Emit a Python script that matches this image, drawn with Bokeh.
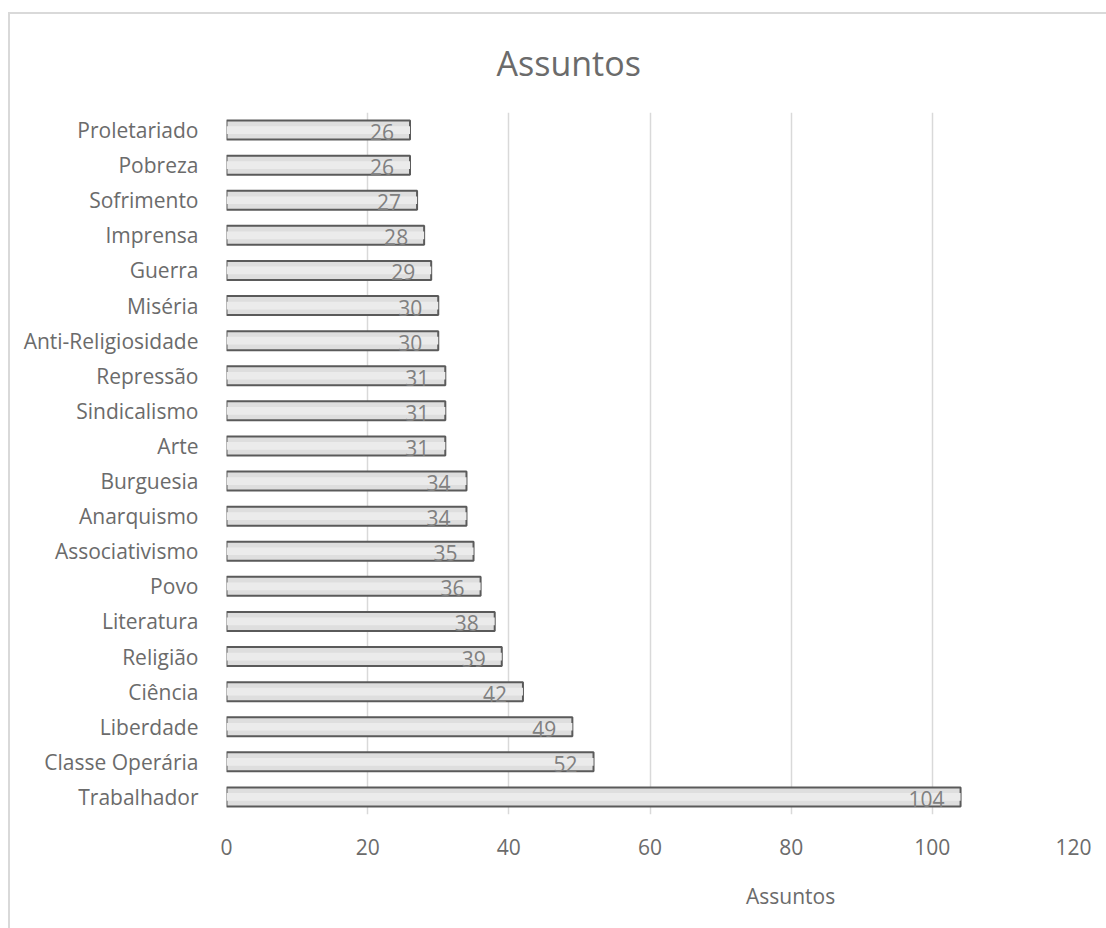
from bokeh.plotting import figure
from bokeh.layouts import column
from bokeh.models import ColumnDataSource, Range1d, FactorRange, Legend, LegendItem, Title
from bokeh.core.properties import value
from bokeh.embed import file_html
from bokeh.resources import INLINE

categories = ["Trabalhador", "Classe Operária", "Liberdade", "Ciência", "Religião",
              "Literatura", "Povo", "Associativismo", "Anarquismo", "Burguesia",
              "Arte", "Sindicalismo", "Repressão", "Anti-Religiosidade", "Miséria",
              "Guerra", "Imprensa", "Sofrimento", "Pobreza", "Proletariado"]
values = [104, 52, 49, 42, 39, 38, 36, 35, 34, 34, 31, 31, 31, 30, 30, 29, 28, 27, 26, 26]
x_ticks = [0, 20, 40, 60, 80, 100, 120]
series_name = "Assuntos"
title_text = "Assuntos"

FONT = "Open Sans"
TXT = "#6b6b6b"
FS = "21px"
BAR_FILL = "#dedede"
BAR_LINE = "#5a5a5a"

src = ColumnDataSource(dict(cat=categories, val=values, lab=[str(v) for v in values]))

p = figure(frame_width=845, frame_height=700, output_backend="svg", toolbar_location=None,
           y_range=FactorRange(factors=categories), x_range=Range1d(0, 120),
           min_border_left=216, min_border_right=35, min_border_top=98, min_border_bottom=60,
           margin=(12, 0, 0, 8),
           styles={"border-left": "2px solid #d9d9d9", "border-top": "2px solid #d9d9d9",
                   "box-sizing": "content-box"})
p.outline_line_color = None
p.background_fill_color = "white"
p.border_fill_color = "white"

r = p.hbar(y="cat", right="val", left=0, height=0.54, source=src,
           fill_color=BAR_FILL, line_color=BAR_LINE, line_width=2)
p.hbar(y="cat", right="val", left=0, height=0.22, source=src,
       fill_color="#ebebeb", line_color=None, line_width=0)

p.text(x="val", y="cat", text="lab", source=src, x_offset=-16, y_offset=2,
       text_align="right", text_baseline="middle", text_color="#808080",
       text_font=value(FONT), text_font_size=FS)

p.xaxis.ticker = x_ticks
p.xaxis.axis_line_color = None
p.xaxis.major_tick_line_color = None
p.xaxis.minor_tick_line_color = None
p.xaxis.major_label_standoff = 18
p.xaxis.major_label_text_font = FONT
p.xaxis.major_label_text_font_size = FS
p.xaxis.major_label_text_color = TXT

p.yaxis.axis_line_color = None
p.yaxis.major_tick_line_color = None
p.yaxis.minor_tick_line_color = None
p.yaxis.major_label_standoff = 22
p.yaxis.major_label_text_font = FONT
p.yaxis.major_label_text_font_size = FS
p.yaxis.major_label_text_color = TXT

p.xgrid.ticker = x_ticks
p.xgrid.grid_line_color = "#d9d9d9"
p.xgrid.grid_line_width = 1.5
p.ygrid.grid_line_color = None

p.title = Title(text=title_text, align="left", offset=270, text_font=FONT,
                text_font_size="34px", text_color=TXT, text_font_style="normal",
                vertical_align="top", standoff=50)

# legend strip below the chart
p2 = figure(width=1096, height=56, output_backend="svg", toolbar_location=None,
            x_range=Range1d(0, 1), y_range=Range1d(0, 1), min_border=0,
            margin=(0, 0, 0, 8),
            styles={"border-left": "2px solid #d9d9d9", "box-sizing": "content-box"})
p2.axis.visible = False
p2.grid.visible = False
p2.outline_line_color = None
p2.border_fill_color = "white"
r2 = p2.hbar(y=[], right=[], left=0, height=0.5,
             fill_color=BAR_FILL, line_color=BAR_LINE, line_width=2)
legend = Legend(items=[LegendItem(label=series_name, renderers=[r2])], location=(503, 18),
                orientation="horizontal", label_text_font=FONT, label_text_font_size=FS,
                label_text_color=TXT, glyph_width=14, glyph_height=14, border_line_color=None,
                background_fill_alpha=0, margin=0, padding=0, label_standoff=3)
p2.add_layout(legend)

layout = column(p, p2, spacing=0)
open("out.html", "w").write(file_html(layout, INLINE))
